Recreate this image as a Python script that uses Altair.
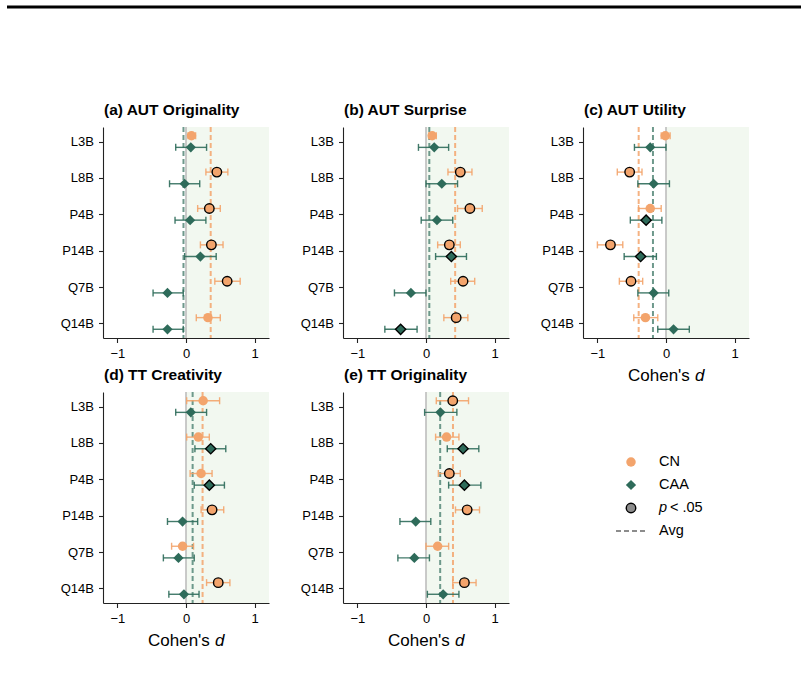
import altair as alt
import pandas as pd

items = ["L3B", "L8B", "P4B", "P14B", "Q7B", "Q14B"]
titles = ["(a) AUT Originality", "(b) AUT Surprise", "(c) AUT Utility",
          "(d) TT Creativity", "(e) TT Originality"]

cn_d = [[0.08, 0.45, 0.34, 0.37, 0.60, 0.32],
        [0.09, 0.50, 0.64, 0.34, 0.54, 0.44],
        [-0.01, -0.53, -0.23, -0.81, -0.51, -0.30],
        [0.25, 0.18, 0.22, 0.38, -0.05, 0.47],
        [0.39, 0.30, 0.34, 0.60, 0.17, 0.56]]
cn_lo = [[0.03, 0.29, 0.17, 0.21, 0.42, 0.15],
         [0.04, 0.32, 0.46, 0.17, 0.36, 0.26],
         [-0.07, -0.71, -0.40, -1.00, -0.68, -0.47],
         [0.01, 0.01, 0.06, 0.22, -0.21, 0.30],
         [0.15, 0.14, 0.18, 0.43, 0.00, 0.39]]
cn_hi = [[0.14, 0.61, 0.50, 0.54, 0.79, 0.50],
         [0.15, 0.67, 0.82, 0.50, 0.71, 0.61],
         [0.06, -0.35, -0.07, -0.63, -0.34, -0.12],
         [0.49, 0.34, 0.38, 0.55, 0.11, 0.64],
         [0.62, 0.48, 0.50, 0.78, 0.33, 0.73]]
cn_sig = [[0, 1, 1, 1, 1, 0],
          [0, 1, 1, 1, 1, 1],
          [0, 1, 0, 1, 1, 0],
          [0, 0, 0, 1, 0, 1],
          [1, 0, 1, 1, 0, 1]]

caa_d = [[0.07, -0.02, 0.06, 0.21, -0.27, -0.27],
         [0.12, 0.23, 0.16, 0.37, -0.22, -0.37],
         [-0.23, -0.18, -0.29, -0.37, -0.18, 0.11],
         [0.07, 0.36, 0.34, -0.05, -0.11, -0.03],
         [0.21, 0.54, 0.56, -0.15, -0.17, 0.25]]
caa_lo = [[-0.15, -0.24, -0.16, -0.02, -0.48, -0.48],
          [-0.11, 0.00, -0.07, 0.14, -0.46, -0.60],
          [-0.46, -0.41, -0.52, -0.61, -0.41, -0.12],
          [-0.15, 0.13, 0.12, -0.27, -0.33, -0.25],
          [-0.02, 0.31, 0.33, -0.38, -0.41, 0.02]]
caa_hi = [[0.30, 0.20, 0.29, 0.44, -0.04, -0.04],
          [0.33, 0.46, 0.39, 0.59, 0.00, -0.13],
          [0.00, 0.05, -0.06, -0.14, 0.04, 0.34],
          [0.30, 0.58, 0.56, 0.17, 0.12, 0.19],
          [0.45, 0.77, 0.80, 0.07, 0.05, 0.48]]
caa_sig = [[0, 0, 0, 0, 0, 0],
           [0, 0, 0, 1, 0, 1],
           [0, 0, 1, 1, 0, 0],
           [0, 1, 1, 0, 0, 0],
           [0, 1, 1, 0, 0, 0]]

legend_labels = ["CN", "CAA", "p", "< .05", "Avg"]

ORANGE = "#F3A46C"
GREEN = "#2E6B5A"
SHADE = "#F2F8F0"
FONT = "Liberation Sans"
W, H = 166, 211
CIRCLE, DIAMOND = 90, 105

xs = alt.Scale(domain=[-1.21, 1.21], nice=False, zero=False)
ys = alt.Scale(domain=[-0.4, 5.4], reverse=True, nice=False, zero=False)
xaxis = alt.Axis(values=[-1, 0, 1], title=None, labelFlush=False, format="d")
label_expr = "[" + ",".join("'%s'" % s for s in items) + "][datum.value]"
yaxis = alt.Axis(values=[0, 1, 2, 3, 4, 5], labelExpr=label_expr, title=None)


def one_row():
    return pd.DataFrame({"a": [0]})


def group_df(k, d, lo, hi, sig, off):
    return pd.DataFrame({
        "item": items,
        "pos": [i + off for i in range(len(items))],
        "d": d[k], "lo": lo[k], "hi": hi[k],
        "sig": [bool(s) for s in sig[k]],
    })


def series_layers(df, color, shape, size):
    base = alt.Chart(df)
    X = lambda f: alt.X(f, type="quantitative", scale=xs, axis=xaxis)
    Y = alt.Y("pos:Q", scale=ys, axis=yaxis)
    bar = base.mark_rule(color=color, strokeWidth=1.4, opacity=0.9).encode(
        x=X("lo"), x2="hi", y=Y)
    cap_l = base.mark_tick(color=color, orient="vertical", size=7,
                           thickness=1.4, opacity=0.9).encode(x=X("lo"), y=Y)
    cap_r = base.mark_tick(color=color, orient="vertical", size=7,
                           thickness=1.4, opacity=0.9).encode(x=X("hi"), y=Y)
    pts = base.mark_point(shape=shape, filled=True, size=size, color=color,
                          stroke="black", opacity=1).encode(
        x=X("d"), y=Y,
        strokeWidth=alt.condition("datum.sig", alt.value(1.4), alt.value(0)))
    return bar, cap_l, cap_r, pts


def avg_rule(df, color, opacity):
    return alt.Chart(df).mark_rule(color=color, strokeDash=[5, 3],
                                   strokeWidth=2, opacity=opacity).encode(
        x=alt.X("mean(d):Q", scale=xs, axis=xaxis))


def panel(k, xlabel=False):
    cn = group_df(k, cn_d, cn_lo, cn_hi, cn_sig, -0.16)
    caa = group_df(k, caa_d, caa_lo, caa_hi, caa_sig, 0.16)
    shade = alt.Chart(one_row()).mark_rect(color=SHADE).encode(
        x=alt.X(datum=0, type="quantitative", scale=xs, axis=xaxis),
        x2=alt.value(W), y=alt.value(0), y2=alt.value(H))
    zero = alt.Chart(one_row()).mark_rule(color="#BDBDBD", strokeWidth=1.6).encode(
        x=alt.X(datum=0, type="quantitative", scale=xs, axis=xaxis))
    caa_layers = series_layers(caa, GREEN, "diamond", DIAMOND)
    cn_layers = series_layers(cn, ORANGE, "circle", CIRCLE)
    layers = [shade, zero, avg_rule(caa, "#5E8E80", 0.9), avg_rule(cn, ORANGE, 0.85)]
    layers += list(caa_layers[:3]) + list(cn_layers[:3]) + [caa_layers[3], cn_layers[3]]
    if xlabel:
        layers.append(alt.Chart(one_row()).mark_text(
            text="Cohen's", align="left", baseline="alphabetic", fontSize=17,
            font=FONT, color="black").encode(x=alt.value(45), y=alt.value(H + 43)))
        layers.append(alt.Chart(one_row()).mark_text(
            text="d", align="left", baseline="alphabetic", fontSize=17,
            font=FONT, fontStyle="italic", color="black").encode(
            x=alt.value(112), y=alt.value(H + 43)))
    return alt.layer(*layers).properties(
        width=W, height=H,
        title=alt.Title(titles[k], anchor="start", frame="group", offset=8,
                        dx=1, fontSize=15.5, font=FONT, fontWeight="bold", color="black"))


def legend_panel():
    r = one_row()
    rows_y = [70, 93, 116, 139]
    mx, tx = 48, 76
    layers = [
        alt.Chart(r).mark_point(shape="circle", filled=True, size=CIRCLE, color=ORANGE,
                                opacity=1).encode(x=alt.value(mx), y=alt.value(rows_y[0])),
        alt.Chart(r).mark_point(shape="diamond", filled=True, size=DIAMOND, color=GREEN,
                                opacity=1).encode(x=alt.value(mx), y=alt.value(rows_y[1])),
        alt.Chart(r).mark_point(shape="circle", filled=True, size=CIRCLE, color="#8C8C8C",
                                stroke="black", strokeWidth=1.4,
                                opacity=1).encode(x=alt.value(mx), y=alt.value(rows_y[2])),
        alt.Chart(r).mark_rule(color="#8C8C8C", strokeDash=[5, 3], strokeWidth=2).encode(
            x=alt.value(33), x2=alt.value(63), y=alt.value(rows_y[3])),
        # thick page rule at the very top of the figure
        alt.Chart(r).mark_rule(color="black", strokeWidth=3).encode(
            x=alt.value(-576), x2=alt.value(218), y=alt.value(-385)),
    ]
    spec = [(legend_labels[0], tx, rows_y[0], "normal"),
            (legend_labels[1], tx, rows_y[1], "normal"),
            (legend_labels[2], tx, rows_y[2], "italic"),
            (legend_labels[3], tx + 11, rows_y[2], "normal"),
            (legend_labels[4], tx, rows_y[3], "normal")]
    for text, x, y, style in spec:
        layers.append(alt.Chart(r).mark_text(
            text=text, align="left", baseline="middle", fontSize=14.5, font=FONT,
            fontStyle=style, color="black").encode(x=alt.value(x), y=alt.value(y)))
    return alt.layer(*layers).properties(width=W, height=H)


chart = alt.concat(
    panel(0), panel(1), panel(2, xlabel=True),
    panel(3, xlabel=True), panel(4, xlabel=True), legend_panel(),
    columns=3, spacing={"row": 54, "column": 74}, bounds="flush",
).properties(
    padding={"left": 5, "top": 5, "right": 0, "bottom": 0}
).configure_view(stroke=None).configure_axis(
    domainColor="#222222", domainWidth=1.1, tickColor="#222222", tickWidth=1.1,
    tickSize=4.5, labelFont=FONT, labelFontSize=13, labelColor="black",
    labelPadding=5, grid=False
).configure_title(font=FONT)

chart.save("out.html", embed_options={"renderer": "svg", "actions": False})
